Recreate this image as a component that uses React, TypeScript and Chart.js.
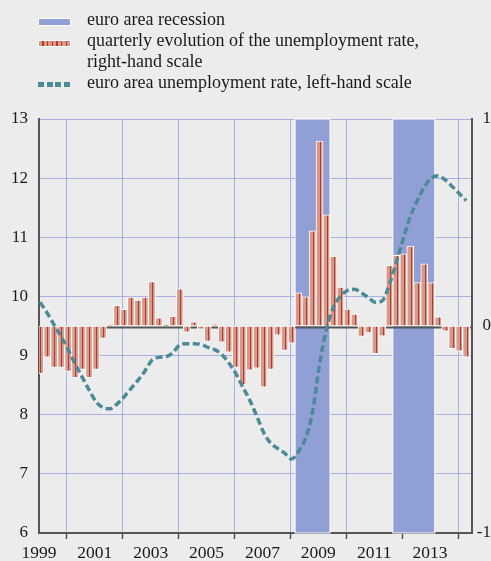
import React, { useEffect, useRef } from "react";
import { Chart, registerables } from "chart.js";

Chart.register(...registerables);

// ---------- data ----------
const FIRST_YEAR = 1999;
const LAST_YEAR = 2014;
const LAST_QUARTER = 2;

const quarters: string[] = [];
for (let y = FIRST_YEAR; y <= LAST_YEAR; y++) {
  for (let q = 1; q <= 4; q++) {
    if (y === LAST_YEAR && q > LAST_QUARTER) break;
    quarters.push(`${y}Q${q}`);
  }
}

// quarterly change of the unemployment rate (percentage points, right-hand scale)
const quarterlyChange: number[] = [
  -0.23, -0.15, -0.2, -0.2, -0.22, -0.25, -0.21, -0.25, -0.21, -0.06,
  0.005, 0.1, 0.08, 0.14, 0.125, 0.14, 0.215, 0.04, 0.004, 0.047,
  0.18, -0.03, 0.02, -0.015, -0.075, 0.01, -0.078, -0.127, -0.2, -0.283,
  -0.213, -0.204, -0.296, -0.21, -0.044, -0.118, -0.083, 0.16, 0.141, 0.46,
  0.893, 0.537, 0.337, 0.188, 0.082, 0.058, -0.05, -0.034, -0.134, -0.049,
  0.293, 0.342, 0.349, 0.386, 0.21, 0.3, 0.21, 0.044, -0.025, -0.11,
  -0.122, -0.151,
];

// euro area unemployment rate (%, left-hand scale)
const unemploymentRate: number[] = [
  9.9, 9.72, 9.52, 9.32, 9.1, 8.86, 8.64, 8.42, 8.22, 8.12,
  8.1, 8.18, 8.3, 8.44, 8.58, 8.74, 8.92, 8.97, 8.98, 9.05,
  9.18, 9.2, 9.2, 9.19, 9.14, 9.1, 9.02, 8.88, 8.7, 8.47,
  8.25, 7.98, 7.7, 7.52, 7.43, 7.35, 7.25, 7.38, 7.6, 8.05,
  8.85, 9.45, 9.82, 10.0, 10.1, 10.12, 10.06, 9.98, 9.9, 9.93,
  10.2, 10.58, 10.98, 11.35, 11.62, 11.85, 12.0, 12.04, 11.97, 11.86,
  11.74, 11.62,
];

// euro area recessions (first quarter, last quarter)
const recessions: [string, string][] = [
  ["2008Q2", "2009Q2"],
  ["2011Q4", "2013Q1"],
];

const xTicks: number[] = [1999, 2001, 2003, 2005, 2007, 2009, 2011, 2013];
const X_MIN = 1999;
const X_MAX = 2014.5;
const LEFT_MIN = 6;
const LEFT_MAX = 13;
const RIGHT_MIN = -1;
const RIGHT_MAX = 1;

const legendLabels = {
  recession: "euro area recession",
  change: ["quarterly evolution of the unemployment rate,", "right-hand scale"],
  rate: "euro area unemployment rate, left-hand scale",
};

// ---------- styles ----------
const BG = "#ececec";
const BAND = "#909fd6";
const GRID = "#a9b1e3";
const SALMON = "#d9998a";
const STRIPE = "#b3392a";
const TEAL = "#4b8a97";
const AXIS = "#555555";
const TEXT = "#1a1a1a";
const FONT = "'Liberation Serif', 'Times New Roman', serif";

// position of a quarter on the time axis (dated to the middle of its first month)
function qx(label: string): number {
  const [y, q] = label.split("Q").map(Number);
  return y + (q - 1) / 4 + 1 / 24;
}

const bandsPlugin = {
  id: "bandsAndZero",
  beforeDatasetsDraw(chart: any) {
    const { ctx, chartArea: a, scales } = chart;
    const x = scales.x;
    const y1 = scales.y1;
    ctx.save();
    for (const [s, e] of recessions) {
      const x0 = x.getPixelForValue(qx(s) - 0.125);
      const x1 = x.getPixelForValue(qx(e) + 0.125);
      ctx.fillStyle = BAND;
      ctx.fillRect(x0, a.top, x1 - x0, a.bottom - a.top);
      ctx.strokeStyle = "#ffffff";
      ctx.lineWidth = 1;
      ctx.strokeRect(x0, a.top, x1 - x0, a.bottom - a.top);
    }
    const z = y1.getPixelForValue(0);
    ctx.fillStyle = AXIS;
    ctx.fillRect(a.left, z + 0.5, a.right - a.left, 2);
    ctx.restore();
  },
};

export default function App() {
  const canvasRef = useRef<HTMLCanvasElement | null>(null);

  useEffect(() => {
    const canvas = canvasRef.current;
    if (!canvas) return;

    const pc = document.createElement("canvas");
    pc.width = 7;
    pc.height = 4;
    const pctx = pc.getContext("2d")!;
    pctx.fillStyle = SALMON;
    pctx.fillRect(0, 0, 7, 4);
    pctx.fillStyle = STRIPE;
    pctx.fillRect(5, 0, 1, 4);
    const pattern = canvas.getContext("2d")!.createPattern(pc, "repeat")!;

    Chart.defaults.font.family = FONT;
    Chart.defaults.font.size = 17;
    Chart.defaults.color = TEXT;

    const chart = new Chart(canvas, {
      type: "bar",
      data: {
        datasets: [
          {
            type: "line",
            label: legendLabels.rate,
            data: quarters.map((q, i) => ({ x: qx(q), y: unemploymentRate[i] })),
            yAxisID: "y",
            borderColor: TEAL,
            borderWidth: 3.5,
            borderDash: [7, 3.5],
            borderCapStyle: "butt",
            pointRadius: 0,
            cubicInterpolationMode: "monotone",
            fill: false,
            order: 1,
          } as any,
          {
            type: "bar",
            label: legendLabels.change.join(" "),
            data: quarters.map((q, i) => ({ x: qx(q), y: quarterlyChange[i] })),
            yAxisID: "y1",
            backgroundColor: pattern,
            borderColor: "#ffffff",
            borderWidth: 1,
            borderSkipped: false,
            barPercentage: 1,
            categoryPercentage: 1,
            order: 2,
          } as any,
        ],
      },
      options: {
        animation: false,
        responsive: false,
        maintainAspectRatio: false,
        layout: { padding: { top: 119, left: 0, right: 0, bottom: 0 } },
        plugins: {
          legend: { display: false },
          tooltip: { enabled: false },
        },
        scales: {
          x: {
            type: "linear",
            min: X_MIN,
            max: X_MAX,
            offset: false,
            afterBuildTicks: (s: any) => {
              s.ticks = xTicks.map((v) => ({ value: v }));
            },
            afterFit: (s: any) => {
              s.height = 28;
            },
            grid: {
              color: GRID,
              lineWidth: 1,
              drawTicks: true,
              tickLength: 6,
              tickColor: AXIS,
              tickWidth: 1.5,
            },
            border: { display: true, color: AXIS, width: 2 },
            ticks: {
              autoSkip: false,
              maxRotation: 0,
              padding: 4,
              color: TEXT,
              font: { size: 17.5 },
              callback: (v: any) => String(v),
            },
          },
          y: {
            type: "linear",
            position: "left",
            min: LEFT_MIN,
            max: LEFT_MAX,
            afterFit: (s: any) => {
              s.width = 39;
            },
            grid: { color: GRID, lineWidth: 1, drawTicks: false },
            border: { display: true, color: AXIS, width: 2 },
            ticks: { stepSize: 1, padding: 11, color: TEXT },
          },
          y1: {
            type: "linear",
            position: "right",
            min: RIGHT_MIN,
            max: RIGHT_MAX,
            afterFit: (s: any) => {
              s.width = 19;
            },
            grid: { display: false, drawTicks: false },
            border: { display: true, color: AXIS, width: 2 },
            ticks: { stepSize: 1, padding: 11, crossAlign: "far", color: TEXT },
          },
        },
      } as any,
      plugins: [bandsPlugin],
    });

    return () => chart.destroy();
  }, []);

  const textStyle: React.CSSProperties = {
    position: "absolute",
    left: 87,
    fontFamily: FONT,
    fontSize: 18,
    lineHeight: "21px",
    color: TEXT,
    whiteSpace: "nowrap",
    margin: 0,
  };

  return (
    <div
      style={{
        position: "absolute",
        left: 0,
        top: 0,
        width: 491,
        height: 561,
        background: BG,
        overflow: "hidden",
      }}
    >
      <canvas
        ref={canvasRef}
        width={491}
        height={561}
        style={{ position: "absolute", left: 0, top: 0, width: 491, height: 561 }}
      />
      <div
        style={{
          position: "absolute",
          left: 38,
          top: 18,
          width: 33,
          height: 8,
          boxSizing: "border-box",
          border: "1px solid #ffffff",
          background: BAND,
        }}
      />
      <div style={{ ...textStyle, top: 9 }}>{legendLabels.recession}</div>
      <div
        style={{
          position: "absolute",
          left: 38,
          top: 40,
          width: 33,
          height: 7,
          boxSizing: "border-box",
          border: "1px solid #ffffff",
          background: `repeating-linear-gradient(to right, ${SALMON} 0px, ${SALMON} 3.3px, ${STRIPE} 3.3px, ${STRIPE} 4.7px)`,
        }}
      />
      <div style={{ ...textStyle, top: 30 }}>
        {legendLabels.change[0]}
        <br />
        {legendLabels.change[1]}
      </div>
      <div
        style={{
          position: "absolute",
          left: 38,
          top: 82,
          width: 33,
          height: 5,
          background: `repeating-linear-gradient(to right, ${TEAL} 0px, ${TEAL} 6px, transparent 6px, transparent 8.7px)`,
        }}
      />
      <div style={{ ...textStyle, top: 72 }}>{legendLabels.rate}</div>
    </div>
  );
}
